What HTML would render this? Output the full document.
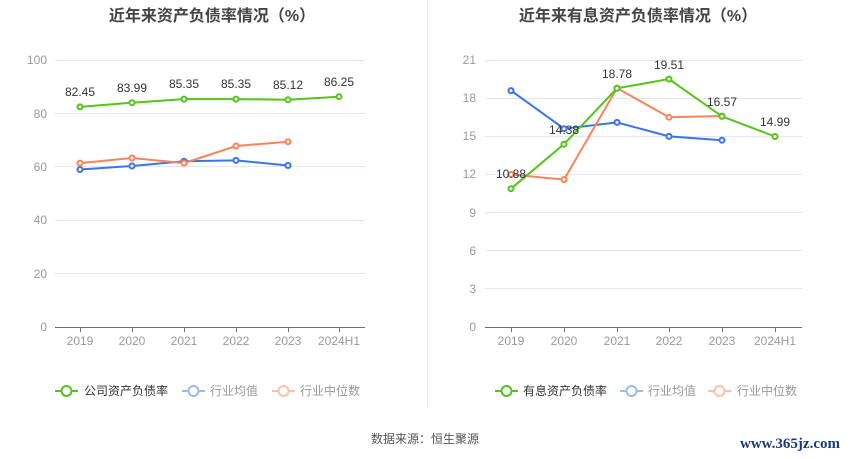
<!DOCTYPE html>
<html><head><meta charset="utf-8"><style>
html,body{margin:0;padding:0;background:#fff;}
svg{display:block;font-family:"Liberation Sans","Noto Sans CJK SC",sans-serif;}
</style></head><body>
<svg width="850" height="459" viewBox="0 0 850 459" xmlns="http://www.w3.org/2000/svg">
<rect width="850" height="459" fill="#fff"/>
<line x1="427.5" y1="0" x2="427.5" y2="408" stroke="#eee"/>
<text x="212" y="21" text-anchor="middle" font-size="16" font-weight="bold" fill="#444">近年来资产负债率情况（%）</text>
<text x="638" y="21" text-anchor="middle" font-size="16" font-weight="bold" fill="#444">近年来有息资产负债率情况（%）</text>
<!-- left grid -->
<g stroke="#e3e7f2" stroke-width="1">
<line x1="55" y1="60.5" x2="365" y2="60.5"/><line x1="55" y1="113.5" x2="365" y2="113.5"/><line x1="55" y1="166.5" x2="365" y2="166.5"/><line x1="55" y1="220.5" x2="365" y2="220.5"/><line x1="55" y1="273.5" x2="365" y2="273.5"/>
<line x1="485" y1="60.5" x2="802" y2="60.5"/><line x1="485" y1="98.5" x2="802" y2="98.5"/><line x1="485" y1="136.5" x2="802" y2="136.5"/><line x1="485" y1="174.5" x2="802" y2="174.5"/><line x1="485" y1="212.5" x2="802" y2="212.5"/><line x1="485" y1="250.5" x2="802" y2="250.5"/><line x1="485" y1="288.5" x2="802" y2="288.5"/>
</g>
<g stroke="#6e7079"><line x1="55" y1="327.5" x2="365" y2="327.5"/><line x1="485" y1="327.5" x2="802" y2="327.5"/>
<line x1="80.5" y1="327" x2="80.5" y2="332"/><line x1="132.5" y1="327" x2="132.5" y2="332"/><line x1="184.5" y1="327" x2="184.5" y2="332"/><line x1="236.5" y1="327" x2="236.5" y2="332"/><line x1="288.5" y1="327" x2="288.5" y2="332"/><line x1="339.5" y1="327" x2="339.5" y2="332"/>
<line x1="511.5" y1="327" x2="511.5" y2="332"/><line x1="564.5" y1="327" x2="564.5" y2="332"/><line x1="617.5" y1="327" x2="617.5" y2="332"/><line x1="669.5" y1="327" x2="669.5" y2="332"/><line x1="722.5" y1="327" x2="722.5" y2="332"/><line x1="775.5" y1="327" x2="775.5" y2="332"/>
</g>
<g font-size="12" fill="#999" text-anchor="end">
<text x="47" y="64">100</text><text x="47" y="118">80</text><text x="47" y="171">60</text><text x="47" y="224">40</text><text x="47" y="278">20</text><text x="47" y="331">0</text>
<text x="476" y="64">21</text><text x="476" y="102">18</text><text x="476" y="140">15</text><text x="476" y="178">12</text><text x="476" y="217">9</text><text x="476" y="255">6</text><text x="476" y="293">3</text><text x="476" y="331">0</text>
</g>
<g font-size="12" fill="#999" text-anchor="middle">
<text x="80" y="345">2019</text><text x="132" y="345">2020</text><text x="184" y="345">2021</text><text x="236" y="345">2022</text><text x="288" y="345">2023</text><text x="339" y="345">2024H1</text>
<text x="511" y="345">2019</text><text x="564" y="345">2020</text><text x="617" y="345">2021</text><text x="669" y="345">2022</text><text x="722" y="345">2023</text><text x="775" y="345">2024H1</text>
</g>
<g fill="#fff" stroke-width="2">
<polyline fill="none" stroke="#3a74e8" points="80,169.5 132,166 184,161.2 236,160.4 288,165.5"/>
<polyline fill="none" stroke="#fb8456" points="80,163.1 132,158 184,163.1 236,146 288,141.7"/>
<polyline fill="none" stroke="#52c41a" points="80,106.9 132,102.7 184,99.1 236,99.1 288,99.7 339,96.7"/>
<g stroke="#3a74e8"><circle cx="80" cy="169.5" r="2.5"/><circle cx="132" cy="166" r="2.5"/><circle cx="184" cy="161.2" r="2.5"/><circle cx="236" cy="160.4" r="2.5"/><circle cx="288" cy="165.5" r="2.5"/></g>
<g stroke="#fb8456"><circle cx="80" cy="163.1" r="2.5"/><circle cx="132" cy="158" r="2.5"/><circle cx="184" cy="163.1" r="2.5"/><circle cx="236" cy="146" r="2.5"/><circle cx="288" cy="141.7" r="2.5"/></g>
<g stroke="#52c41a"><circle cx="80" cy="106.9" r="2.5"/><circle cx="132" cy="102.7" r="2.5"/><circle cx="184" cy="99.1" r="2.5"/><circle cx="236" cy="99.1" r="2.5"/><circle cx="288" cy="99.7" r="2.5"/><circle cx="339" cy="96.7" r="2.5"/></g>

<polyline fill="none" stroke="#3a74e8" points="511,90.6 564,128.7 617,122.4 669,136.4 722,140.2"/>
<polyline fill="none" stroke="#fb8456" points="511,174.5 564,179.6 617,88.1 669,117.3 722,116"/>
<polyline fill="none" stroke="#52c41a" points="511,188.7 564,144.2 617,88.3 669,79 722,116.4 775,136.5"/>
<g stroke="#3a74e8"><circle cx="511" cy="90.6" r="2.5"/><circle cx="564" cy="128.7" r="2.5"/><circle cx="617" cy="122.4" r="2.5"/><circle cx="669" cy="136.4" r="2.5"/><circle cx="722" cy="140.2" r="2.5"/></g>
<g stroke="#fb8456"><circle cx="511" cy="174.5" r="2.5"/><circle cx="564" cy="179.6" r="2.5"/><circle cx="617" cy="88.1" r="2.5"/><circle cx="669" cy="117.3" r="2.5"/><circle cx="722" cy="116" r="2.5"/></g>
<g stroke="#52c41a"><circle cx="511" cy="188.7" r="2.5"/><circle cx="564" cy="144.2" r="2.5"/><circle cx="617" cy="88.3" r="2.5"/><circle cx="669" cy="79" r="2.5"/><circle cx="722" cy="116.4" r="2.5"/><circle cx="775" cy="136.5" r="2.5"/></g>
</g>
<g font-size="12" fill="#333" text-anchor="middle">
<text x="80" y="96">82.45</text><text x="132" y="92">83.99</text><text x="184" y="88">85.35</text><text x="236" y="88">85.35</text><text x="288" y="89">85.12</text><text x="339" y="86">86.25</text>
<text x="511" y="178">10.88</text><text x="564" y="134">14.38</text><text x="617" y="78">18.78</text><text x="669" y="69">19.51</text><text x="722" y="106">16.57</text><text x="775" y="126">14.99</text>
</g>
<!-- legends -->
<g stroke-width="2" fill="#fff">
<line x1="55" y1="391" x2="78" y2="391" stroke="#52c41a"/><circle cx="66.5" cy="391" r="5" stroke="#52c41a"/>
<line x1="182" y1="391" x2="205" y2="391" stroke="#9cb9f3"/><circle cx="193.5" cy="391" r="5" stroke="#9cb9f3"/>
<line x1="272" y1="391" x2="295" y2="391" stroke="#fdc0a8"/><circle cx="283.5" cy="391" r="5" stroke="#fdc0a8"/>
<line x1="495" y1="391" x2="518" y2="391" stroke="#52c41a"/><circle cx="506.5" cy="391" r="5" stroke="#52c41a"/>
<line x1="620" y1="391" x2="643" y2="391" stroke="#9cb9f3"/><circle cx="631.5" cy="391" r="5" stroke="#9cb9f3"/>
<line x1="708" y1="391" x2="731" y2="391" stroke="#fdc0a8"/><circle cx="719.5" cy="391" r="5" stroke="#fdc0a8"/>
</g>
<g font-size="12">
<text x="84" y="395" fill="#333">公司资产负债率</text><text x="210" y="395" fill="#999">行业均值</text><text x="300" y="395" fill="#999">行业中位数</text>
<text x="523" y="395" fill="#333">有息资产负债率</text><text x="648" y="395" fill="#999">行业均值</text><text x="737" y="395" fill="#999">行业中位数</text>
</g>
<text x="425" y="443" text-anchor="middle" font-size="12" fill="#555">数据来源：恒生聚源</text>
<text x="790" y="448" text-anchor="middle" font-size="15" font-weight="bold" fill="#1a3a7a" font-family="Liberation Serif,serif">www.365jz.com</text>
</svg>
</body></html>
